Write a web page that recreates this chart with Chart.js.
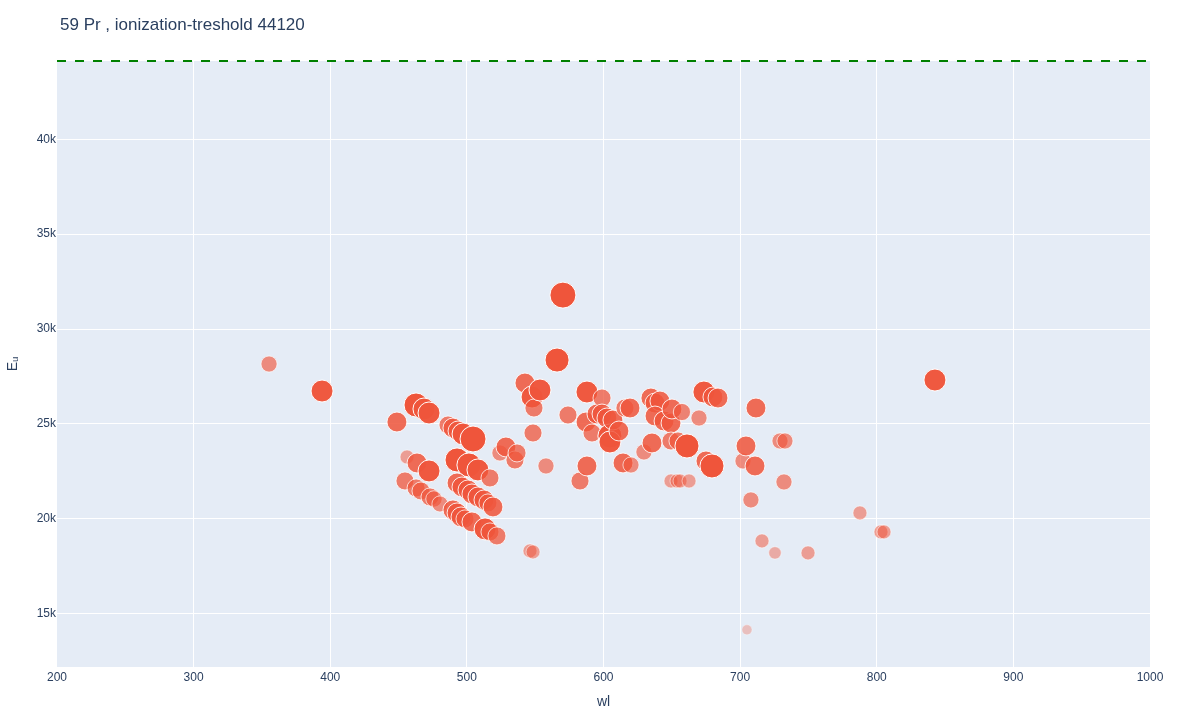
<!DOCTYPE html>
<html>
<head>
<meta charset="utf-8">
<script src="https://cdn.jsdelivr.net/npm/chart.js@4.4.1/dist/chart.umd.min.js"></script>
<style>
  html, body { margin: 0; padding: 0; background: #fff; }
  #wrap { width: 1200px; height: 720px; }
</style>
</head>
<body>
<div id="wrap"><canvas id="myChart" width="1200" height="720"></canvas></div>
<script>
// lines of 59 Pr: wavelength (nm), upper level energy (cm-1), relative strength 0..1
const wl = [355.2, 394.0, 448.8, 462.8, 468.6, 472.3, 456.2, 463.5, 472.3, 454.7,
  462.8, 466.4, 473.0, 475.9, 480.3, 486.2, 489.8, 493.5, 497.2, 504.5,
  492.8, 501.5, 508.1, 516.9, 492.8, 496.4, 500.8, 503.7, 508.1, 512.5,
  515.4, 519.1, 489.8, 492.8, 495.7, 498.6, 503.7, 513.3, 516.9, 522.0,
  524.2, 528.6, 535.2, 536.7, 542.5, 547.7, 549.1, 553.5, 548.4, 557.9,
  546.2, 548.4, 570.3, 566.0, 574.0, 582.8, 587.9, 587.9, 587.2, 591.6,
  595.2, 598.9, 598.9, 602.5, 604.7, 604.7, 606.9, 611.3, 615.7, 619.4,
  614.3, 620.1, 629.6, 634.7, 637.7, 641.3, 637.7, 644.3, 649.4, 650.1,
  657.4, 635.5, 649.4, 654.5, 661.1, 669.9, 649.4, 653.8, 656.0, 662.6,
  673.5, 680.1, 683.8, 675.0, 679.4, 702.1, 704.3, 711.6, 710.9, 707.9,
  716.0, 725.5, 705.0, 729.2, 732.8, 732.1, 749.7, 787.7, 803.1, 805.3,
  842.6];
const eu = [28158, 26737, 25105, 26000, 25789, 25579, 23263, 22947, 22526, 21999,
  21631, 21474, 21158, 21052, 20789, 24947, 24789, 24631, 24473, 24210,
  23105, 22842, 22579, 22158, 21894, 21684, 21526, 21316, 21158, 21000,
  20842, 20631, 20474, 20316, 20105, 20000, 19842, 19473, 19316, 19105,
  23474, 23789, 23105, 23474, 27158, 26421, 25842, 26789, 24526, 22789,
  18316, 18263, 31789, 28368, 25474, 21999, 22789, 26684, 25105, 24526,
  25526, 26368, 25526, 25316, 24368, 24052, 25210, 24631, 25842, 25842,
  22947, 22842, 23526, 26368, 26105, 26210, 25421, 25158, 25052, 25789,
  25631, 24000, 24105, 24105, 23842, 25316, 21999, 21999, 21999, 21999,
  26684, 26421, 26368, 23052, 22789, 23052, 23842, 25842, 22789, 21000,
  18842, 18210, 14158, 24105, 24105, 21947, 18210, 20316, 19316, 19316,
  27316];
const strength = [0.38, 0.75, 0.62, 0.88, 0.75, 0.75, 0.25, 0.62, 0.75, 0.5,
  0.5, 0.5, 0.5, 0.4, 0.38, 0.5, 0.62, 0.62, 0.75, 1.0,
  0.88, 0.88, 0.75, 0.5, 0.62, 0.62, 0.62, 0.62, 0.62, 0.62,
  0.5, 0.62, 0.62, 0.62, 0.62, 0.5, 0.62, 0.75, 0.5, 0.5,
  0.38, 0.62, 0.5, 0.5, 0.62, 0.75, 0.5, 0.75, 0.5, 0.38,
  0.25, 0.25, 1.0, 0.88, 0.5, 0.5, 0.62, 0.75, 0.62, 0.5,
  0.62, 0.5, 0.62, 0.62, 0.88, 0.75, 0.62, 0.62, 0.5, 0.62,
  0.62, 0.38, 0.38, 0.62, 0.62, 0.62, 0.62, 0.62, 0.62, 0.62,
  0.45, 0.62, 0.5, 0.5, 0.88, 0.38, 0.25, 0.25, 0.25, 0.25,
  0.75, 0.62, 0.62, 0.62, 0.88, 0.38, 0.62, 0.62, 0.62, 0.38,
  0.25, 0.15, 0.0, 0.38, 0.38, 0.38, 0.25, 0.25, 0.25, 0.25,
  0.75];

const threshold = 44120;
const xTicks = [200, 300, 400, 500, 600, 700, 800, 900, 1000];
const yTicks = [15000, 20000, 25000, 30000, 35000, 40000];

const points = wl.map(function (w, i) {
  return { x: w, y: eu[i] };
});

const fontFam = '"Liberation Sans", Arial, sans-serif';

function pointAlpha(s) {
  return Math.min(1, 0.3 + 0.9 * s);
}

// plot background + texts
const decor = {
  id: 'decor',
  beforeDraw(chart) {
    const a = chart.chartArea;
    const ctx = chart.ctx;
    ctx.save();
    ctx.fillStyle = '#E5ECF6';
    ctx.fillRect(a.left, a.top, a.right - a.left, a.bottom - a.top);
    ctx.restore();
  },
  afterDraw(chart) {
    const ctx = chart.ctx;
    const a = chart.chartArea;
    ctx.save();
    ctx.fillStyle = '#2a3f5f';
    ctx.font = '17px ' + fontFam;
    ctx.textBaseline = 'alphabetic';
    ctx.textAlign = 'left';
    ctx.fillText('59 Pr , ionization-treshold 44120', 60, 30);

    ctx.font = '14px ' + fontFam;
    ctx.textAlign = 'center';
    ctx.textBaseline = 'middle';
    ctx.fillText('wl', (a.left + a.right) / 2, 702);

    ctx.translate(13, (a.top + a.bottom) / 2);
    ctx.rotate(-Math.PI / 2);
    ctx.fillText('E\u1d64', 0, 0);
    ctx.restore();
  }
};

const config = {
  type: 'scatter',
  data: {
    datasets: [
      {
        type: 'line',
        data: [{ x: 200, y: threshold }, { x: 1000, y: threshold }],
        borderColor: 'green',
        borderWidth: 2,
        borderDash: [9, 9],
        pointRadius: 0,
        clip: 5,
        order: 0
      },
      {
        data: points,
        backgroundColor: function (c) {
          return 'rgba(239,85,59,' + pointAlpha(strength[c.dataIndex]) + ')';
        },
        borderColor: function (c) {
          return 'rgba(255,255,255,' + pointAlpha(strength[c.dataIndex]) + ')';
        },
        borderWidth: 1,
        pointRadius: function (c) {
          return 5 + 8 * strength[c.dataIndex];
        },
        order: 1
      }
    ]
  },
  options: {
    responsive: false,
    animation: false,
    devicePixelRatio: 1,
    layout: { padding: { top: 61, right: 50, left: 0, bottom: 0 } },
    plugins: {
      legend: { display: false },
      tooltip: { enabled: false }
    },
    scales: {
      x: {
        type: 'linear',
        min: 200,
        max: 1000,
        afterBuildTicks: function (s) {
          s.ticks = xTicks.map(function (v) { return { value: v }; });
        },
        afterFit: function (s) { s.height = 53; },
        grid: {
          // no white line on the plot edges
          color: function (c) {
            const v = c.tick ? c.tick.value : 0;
            return (v === 200 || v === 1000) ? 'rgba(0,0,0,0)' : '#ffffff';
          },
          lineWidth: 1,
          drawTicks: false
        },
        border: { display: false },
        ticks: {
          padding: 3,
          color: '#2a3f5f',
          font: { family: fontFam, size: 12 },
          callback: function (v) { return String(v); }
        }
      },
      y: {
        type: 'linear',
        min: 12200,
        max: threshold,
        afterBuildTicks: function (s) {
          s.ticks = yTicks.map(function (v) { return { value: v }; });
        },
        afterFit: function (s) { s.width = 57; },
        grid: { color: '#ffffff', lineWidth: 1, drawTicks: false },
        border: { display: false },
        ticks: {
          padding: 1,
          color: '#2a3f5f',
          font: { family: fontFam, size: 12 },
          callback: function (v) { return (v / 1000) + 'k'; }
        }
      }
    }
  },
  plugins: [decor]
};

const myChart = new Chart(document.getElementById('myChart'), config);
</script>
</body>
</html>
